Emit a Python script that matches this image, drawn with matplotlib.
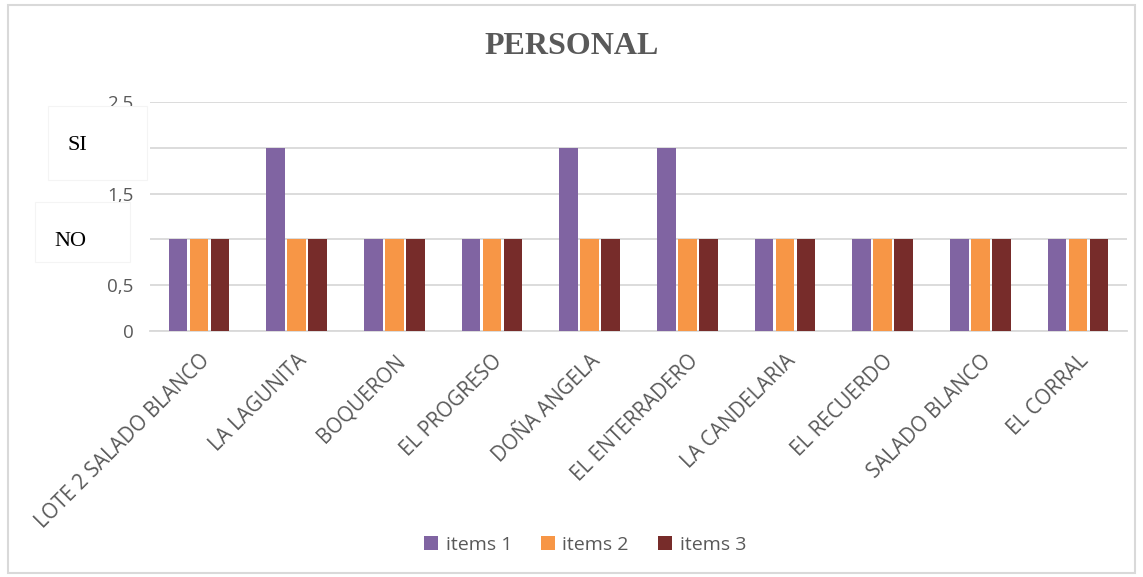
import numpy as np
import matplotlib.pyplot as plt
from matplotlib.patches import Rectangle

# データ
categories = ["LOTE 2 SALADO BLANCO", "LA LAGUNITA", "BOQUERON", "EL PROGRESO",
              "DOÑA ANGELA", "EL ENTERRADERO", "LA CANDELARIA", "EL RECUERDO",
              "SALADO BLANCO", "EL CORRAL"]
items_1 = [1, 2, 1, 1, 2, 2, 1, 1, 1, 1]
items_2 = [1, 1, 1, 1, 1, 1, 1, 1, 1, 1]
items_3 = [1, 1, 1, 1, 1, 1, 1, 1, 1, 1]
series_names = ["items 1", "items 2", "items 3"]
y_ticks = [0, 0.5, 1, 1.5, 2, 2.5]
y_tick_labels = ["0", "0,5", "1", "1,5", "2", "2,5"]

colors = ["#8064A2", "#F79646", "#772C2A"]
gray = "#595959"

W, H = 1143, 577
fig = plt.figure(figsize=(W / 100, H / 100), dpi=100)
ax = fig.add_axes([150 / W, 1 - 331 / H, (1127 - 150) / W, (331 - 102) / H])

x = np.arange(len(categories))
width = 0.19
step = 0.215
for i, vals in enumerate([items_1, items_2, items_3]):
    ax.bar(x + (i - 1) * step, vals, width, color=colors[i], label=series_names[i], zorder=3)

ax.set_xlim(-0.5, len(categories) - 0.5)
ax.set_ylim(0, 2.5)
ax.set_yticks(y_ticks)
ax.set_yticklabels(y_tick_labels, fontsize=13.5, color=gray, family="Open Sans")
ax.yaxis.grid(True, color="#D9D9D9", linewidth=1.3, zorder=0)
ax.tick_params(axis="both", length=0, pad=12)
for s in ax.spines.values():
    s.set_visible(False)
ax.spines["bottom"].set_visible(True)
ax.spines["bottom"].set_color("#D9D9D9")
ax.spines["bottom"].set_linewidth(1.3)

ax.set_xticks(x)
ax.set_xticklabels(categories, rotation=45, ha="right", va="top", rotation_mode="anchor",
                   fontsize=14.8, color=gray, family="Open Sans")
ax.tick_params(axis="x", pad=14)

# タイトル
fig.text(0.5, 1 - 46 / H, "PERSONAL", ha="center", va="center", fontsize=23,
         fontweight="bold", color=gray, family="Liberation Serif")

# 凡例
fig.legend(loc="center", bbox_to_anchor=(585 / W, 1 - 545 / H), ncol=3, frameon=False,
           prop={"family": "Open Sans", "size": 14}, labelcolor=gray,
           handlelength=0.7, handleheight=0.7, handletextpad=0.4, columnspacing=1.5)

# SI / NO の白いボックス
for (x0, y0, x1, y1, txt, tx, ty) in [(48, 106, 147, 180, "SI", 77, 146),
                                      (35, 202, 130, 262, "NO", 70, 242)]:
    fig.patches.append(Rectangle((x0 / W, 1 - y1 / H), (x1 - x0) / W, (y1 - y0) / H,
                                 transform=fig.transFigure, facecolor="white",
                                 edgecolor="#F4F4F4", linewidth=0.8, zorder=5))
    fig.text(tx / W, 1 - ty / H, txt, ha="center", va="center", fontsize=16,
             color="black", family="Liberation Serif", zorder=6)

# 外枠
fig.patches.append(Rectangle((8 / W, 4 / H), (1135 - 8) / W, (572 - 4) / H,
                             transform=fig.transFigure, facecolor="none",
                             edgecolor="#D9D9D9", linewidth=1.5, zorder=0))

fig.savefig("out.png", dpi=100)
